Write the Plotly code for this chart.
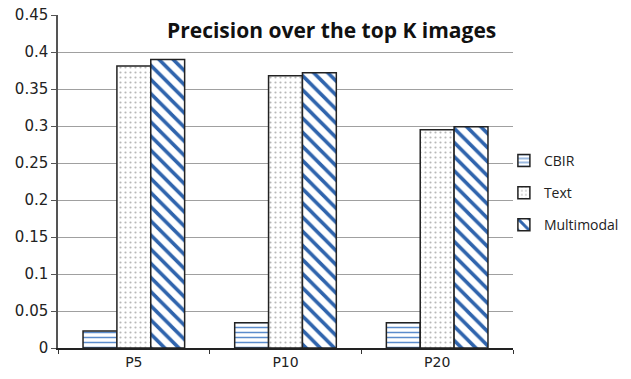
import plotly.graph_objects as go

categories = ["P5", "P10", "P20"]
cbir = [0.023, 0.034, 0.034]
text = [0.381, 0.368, 0.295]
multimodal = [0.390, 0.372, 0.299]
y_ticks = [0, 0.05, 0.1, 0.15, 0.2, 0.25, 0.3, 0.35, 0.4, 0.45]
y_tick_labels = ["0", "0.05", "0.1", "0.15", "0.2", "0.25", "0.3", "0.35", "0.4", "0.45"]

series = [
    ("CBIR", cbir, dict(shape="-", fgcolor="#5b8ccc", fgopacity=1, bgcolor="white", size=5, solidity=0.3)),
    ("Text", text, dict(shape=".", fgcolor="#b8b8b8", fgopacity=1, bgcolor="white", size=5, solidity=0.15)),
    ("Multimodal", multimodal, dict(shape="\\", fgcolor="#2f64ad", fgopacity=1, bgcolor="white", size=10, solidity=0.36)),
]

fig = go.Figure()
for name, vals, pat in series:
    fig.add_trace(go.Bar(
        x=categories, y=vals, name=name, legendgroup=name,
        marker=dict(color="white", pattern=pat, line=dict(color="#222222", width=1.5)),
    ))

fig.update_layout(
    width=631, height=379,
    margin=dict(l=58, r=118, t=15, b=31, autoexpand=False),
    paper_bgcolor="white", plot_bgcolor="white",
    barmode="group", bargap=0.33, bargroupgap=0,
    font=dict(family="DejaVu Sans", color="#222222"),
    legend=dict(
        x=0.98, y=0.61, xanchor="left", yanchor="top",
        itemwidth=30,
        traceorder="grouped", tracegroupgap=11,
        font=dict(family="Open Sans", size=14, color="#222222"),
        bgcolor="rgba(0,0,0,0)",
    ),
    annotations=[dict(
        text="<b>Precision over the top K images</b>",
        xref="paper", yref="paper", x=0.967, y=0.955, xanchor="right", yanchor="middle",
        showarrow=False, font=dict(family="Open Sans", size=21, color="#111111"),
    )],
)
fig.update_xaxes(
    showline=True, linecolor="#222222", linewidth=2,
    ticks="outside", tickson="boundaries", ticklen=4, tickcolor="#333333",
    tickfont=dict(family="DejaVu Sans", size=14, color="#222222"), showgrid=False,
)
fig.update_yaxes(
    range=[0, 0.45], tickvals=y_ticks, ticktext=y_tick_labels,
    showline=True, linecolor="#555555", linewidth=1.5,
    ticks="outside", ticklen=5, tickcolor="#555555",
    showgrid=True, gridcolor="#a0a0a0", gridwidth=1,
    zeroline=False, tickfont=dict(family="DejaVu Sans", size=15, color="#222222"),
)

fig.write_html("out.html")
